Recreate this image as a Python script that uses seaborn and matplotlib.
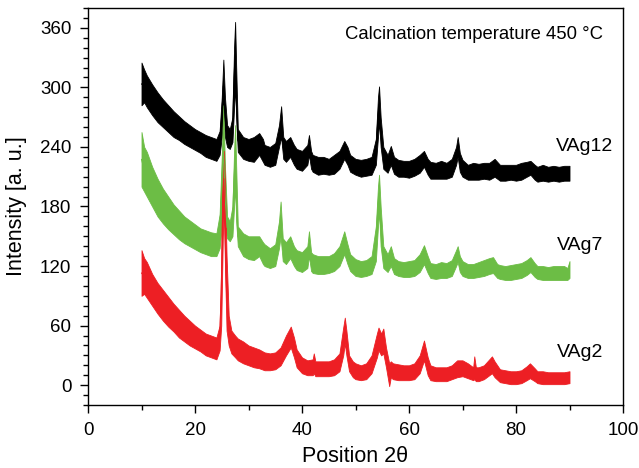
import matplotlib
matplotlib.use("Agg")
import matplotlib.pyplot as plt
import pandas as pd
import seaborn as sns
from matplotlib.ticker import MultipleLocator

# ---------------- data (noise band low / high) ----------------
vag12_x = [10.0, 10.5, 11, 12, 13, 14, 15, 16, 17, 18, 19, 20, 21, 22, 23, 24, 24.6, 25.0, 25.3, 25.6,
           26.0, 26.5, 27.0, 27.3, 27.5, 27.7, 28.0, 29, 30, 31, 32, 32.7, 33, 34, 35, 35.7, 36.1, 36.5,
           37, 37.8, 38.5, 39, 40, 41, 41.3, 41.7, 42, 43, 44, 45, 46, 47, 47.9, 48.5, 49, 50, 51, 52,
           53, 53.8, 54.2, 54.4, 54.7, 55.2, 56, 56.6, 57.2, 58, 59, 60, 61, 62, 62.8, 63.5, 64, 65, 66,
           67, 68, 68.8, 69.1, 69.5, 70, 71, 72, 73, 74, 75, 76, 77, 78, 79, 80, 81, 82, 82.7, 83.5, 84,
           85, 86, 87, 88, 89, 90]
vag12_lo = [282, 285, 280, 272, 265, 260, 255, 250, 247, 243, 240, 237, 234, 230, 228, 226, 232, 250, 275, 250,
            240, 238, 245, 280, 300, 270, 235, 228, 226, 225, 232, 225, 222, 220, 222, 240, 250, 228,
            225, 230, 222, 218, 216, 222, 232, 218, 215, 212, 213, 212, 213, 218, 228, 222, 215, 212, 210, 211,
            212, 222, 250, 265, 240, 218, 214, 222, 213, 210, 210, 209, 211, 214, 220, 212, 208, 208, 208,
            208, 210, 222, 230, 215, 210, 207, 207, 207, 208, 207, 210, 206, 206, 207, 206, 207, 210, 212, 207, 205,
            206, 205, 206, 205, 206, 206]
vag12_hi = [325, 318, 312, 303, 295, 288, 282, 276, 271, 266, 262, 258, 255, 252, 250, 248, 256, 290, 328, 290,
            262, 258, 270, 340, 366, 320, 258, 250, 248, 250, 254, 248, 242, 240, 244, 262, 281, 250,
            246, 250, 242, 238, 236, 242, 252, 236, 232, 230, 230, 228, 232, 236, 246, 240, 232, 228, 227, 228,
            230, 248, 290, 301, 270, 240, 232, 241, 230, 227, 226, 226, 228, 232, 236, 228, 225, 224, 226,
            224, 228, 240, 250, 234, 227, 222, 224, 223, 224, 224, 228, 222, 222, 222, 222, 224, 225, 226, 222, 220,
            222, 220, 221, 220, 221, 221]

vag7_x = [10.0, 10.5, 11, 12, 13, 14, 15, 16, 17, 18, 19, 20, 21, 22, 23, 24, 24.6, 25.0, 25.3, 25.6,
          26.0, 26.5, 27.0, 27.3, 27.5, 27.7, 28.0, 29, 30, 31, 32, 32.7, 33, 34, 35, 35.7, 36.0, 36.4,
          37, 37.8, 38.5, 39, 40, 41, 41.3, 41.7, 42, 43, 44, 45, 46, 47, 47.9, 48.5, 49, 50, 51, 52,
          53, 53.8, 54.2, 54.4, 54.7, 55.2, 56, 56.6, 57.2, 58, 59, 60, 61, 62, 62.8, 63.5, 64, 65, 66,
          67, 68, 68.8, 69.1, 69.5, 70, 71, 72, 73, 74, 75, 75.7, 76.5, 77, 78, 79, 80, 81, 82, 82.7, 83.5,
          84, 85, 86, 87, 88, 89, 89.6, 90]
vag7_lo = [200, 195, 190, 180, 170, 163, 157, 152, 147, 143, 140, 137, 134, 132, 130, 130, 138, 160, 200, 160,
           148, 145, 150, 180, 200, 165, 140, 130, 127, 126, 130, 122, 120, 118, 120, 138, 150, 125,
           122, 128, 120, 116, 114, 118, 130, 115, 113, 112, 112, 113, 115, 120, 132, 122, 115, 110, 109, 110,
           112, 125, 160, 175, 140, 118, 114, 120, 112, 110, 109, 109, 110, 114, 122, 113, 108, 107, 108,
           108, 110, 120, 124, 114, 110, 108, 108, 109, 110, 112, 113, 108, 107, 106, 106, 107, 108, 111, 114, 109,
           107, 106, 106, 106, 106, 106, 106, 108]
vag7_hi = [255, 240, 235, 220, 208, 198, 190, 182, 176, 170, 166, 162, 158, 156, 154, 153, 172, 230, 282, 220,
           170, 165, 180, 235, 262, 220, 160, 153, 150, 150, 150, 144, 142, 138, 142, 165, 185, 148,
           144, 150, 140, 136, 134, 140, 155, 134, 132, 130, 130, 130, 133, 140, 155, 142, 132, 127, 125, 126,
           130, 160, 200, 212, 180, 140, 132, 140, 128, 125, 124, 125, 126, 132, 141, 130, 123, 122, 124,
           123, 126, 136, 140, 130, 125, 122, 122, 124, 126, 128, 129, 122, 121, 120, 121, 122, 123, 126, 129, 123,
           120, 120, 119, 120, 120, 120, 118, 125]

vag2_x = [10.0, 10.5, 11, 12, 13, 14, 15, 16, 17, 18, 19, 20, 21, 22, 23, 24, 24.6, 24.9, 25.2, 25.4,
          25.6, 25.9, 26.3, 26.8, 27.5, 28, 29, 30, 31, 32, 33, 34, 35, 36, 37, 37.9, 38.5, 39, 40, 41,
          42, 42.2, 42.5, 43, 44, 45, 46, 47, 47.7, 48.0, 48.3, 48.8, 49.5, 50, 51, 52, 53, 54, 54.3,
          54.8, 55.2, 55.7, 56.3, 56.6, 57, 58, 59, 60, 61, 62, 62.8, 63.5, 64, 65, 66, 67, 68, 69, 70,
          71, 72, 72.2, 72.5, 73, 74, 75, 75.5, 76, 77, 78, 79, 80, 81, 82, 82.6, 83.5, 84, 85, 86, 87,
          88, 89, 90]
vag2_lo = [90, 92, 88, 80, 72, 65, 59, 54, 48, 44, 40, 37, 34, 30, 28, 26, 35, 60, 150, 180,
           120, 55, 40, 32, 28, 25, 22, 20, 18, 17, 15, 15, 16, 20, 30, 38, 28, 18, 12, 10,
           10, 12, 9, 9, 9, 9, 10, 14, 30, 42, 30, 14, 8, 6, 5, 6, 12, 28, 35,
           30, 32, 18, -1, 8, 6, 5, 5, 5, 6, 12, 25, 10, 5, 4, 4, 4, 6, 8, 9,
           7, 5, 6, 4, 4, 6, 10, 12, 8, 3, 2, 1, 1, 2, 5, 7, 4, 2, 1, 1, 1,
           1, 1, 2]
vag2_hi = [136, 128, 124, 112, 103, 96, 89, 82, 76, 70, 65, 60, 56, 52, 50, 48, 60, 120, 230, 236,
           200, 130, 70, 55, 50, 47, 44, 40, 38, 36, 33, 32, 33, 38, 50, 59, 48, 36, 28, 25,
           26, 32, 24, 24, 24, 24, 26, 32, 58, 68, 55, 30, 24, 22, 20, 22, 30, 52, 58,
           52, 57, 38, 22, 24, 22, 21, 20, 20, 22, 30, 45, 28, 20, 18, 18, 18, 20, 25, 25,
           22, 18, 29, 18, 18, 20, 26, 29, 24, 16, 15, 14, 14, 15, 19, 22, 17, 14, 14, 13, 13,
           13, 13, 14]

sample_names = ["VAg12", "VAg7", "VAg2"]
sample_colors = ["#000000", "#6cbd45", "#ed1f24"]
annotation = "Calcination temperature 450 \u00b0C"

# ---------------- styling ----------------
sns.set_theme(style="ticks")
plt.rcParams["font.family"] = ["Liberation Sans", "DejaVu Sans"]
plt.rcParams["axes.linewidth"] = 1.0
plt.rcParams["xtick.major.width"] = 1.0
plt.rcParams["ytick.major.width"] = 1.0
plt.rcParams["xtick.minor.width"] = 1.0
plt.rcParams["ytick.minor.width"] = 1.0

fig = plt.figure(figsize=(6.39, 4.68), dpi=100)
ax = fig.add_axes([88 / 639, 63 / 468, 535 / 639, 397 / 468])

series = [(vag12_x, vag12_lo, vag12_hi), (vag7_x, vag7_lo, vag7_hi), (vag2_x, vag2_lo, vag2_hi)]
for name, color, (xs, lo, hi) in zip(sample_names, sample_colors, series):
    df = pd.DataFrame({"pos": list(xs) + list(xs),
                       "intensity": list(lo) + list(hi),
                       "sample": name})
    sns.lineplot(data=df, x="pos", y="intensity", estimator="mean", errorbar=("pi", 100),
                 color=color, linewidth=0.8, ax=ax,
                 err_kws={"alpha": 1.0, "edgecolor": color, "linewidth": 0.6})

ax.set_xlim(0, 100)
ax.set_ylim(-20, 380)
ax.xaxis.set_major_locator(MultipleLocator(20))
ax.xaxis.set_minor_locator(MultipleLocator(10))
ax.yaxis.set_major_locator(MultipleLocator(60))
ax.yaxis.set_minor_locator(MultipleLocator(10))
ax.tick_params(axis="both", which="major", direction="out", length=6, labelsize=13.5, color="black",
               labelcolor="black")
ax.tick_params(axis="y", which="major", pad=6)
ax.tick_params(axis="x", which="major", pad=6)
ax.tick_params(axis="both", which="minor", direction="out", length=3.5, color="black")
for sp in ax.spines.values():
    sp.set_visible(True)
    sp.set_color("black")

ax.set_xlabel("Position 2\u03b8", fontsize=15.5, color="black", labelpad=5)
ax.set_ylabel("Intensity [a. u.]", fontsize=15.5, color="black", labelpad=9)

ax.text(48.0, 353, annotation, fontsize=13.3, ha="left", va="center", color="black")
ax.text(87.4, 240, sample_names[0], fontsize=14, ha="left", va="center", color="black")
ax.text(87.6, 141, sample_names[1], fontsize=14, ha="left", va="center", color="black")
ax.text(87.6, 33, sample_names[2], fontsize=14, ha="left", va="center", color="black")

fig.savefig("out.png", dpi=100)
